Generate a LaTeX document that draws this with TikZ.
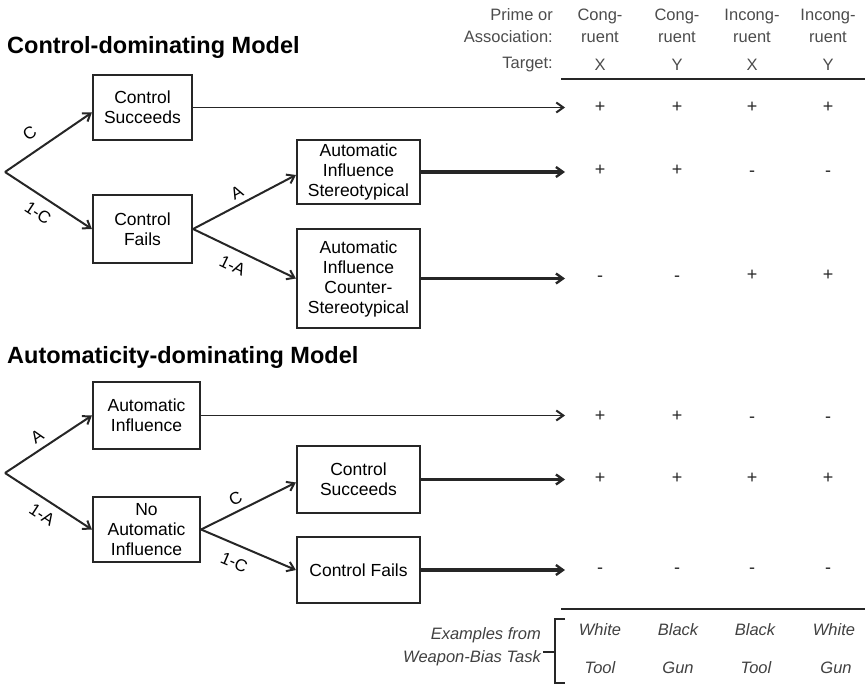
\documentclass[tikz,border=0pt]{standalone}
\usepackage{fontspec}
\setmainfont{Liberation Sans}
\usetikzlibrary{arrows.meta}
\begin{document}
\begin{tikzpicture}[x=1pt,y=-1pt,
  box/.style={draw=black!85,line width=2.2pt,minimum width=#1,align=center,inner sep=0pt,
    font=\fontsize{17.5}{20}\selectfont},
  conn/.style={draw=black!85,line width=2pt,-{Straight Barb[length=7pt,width=10pt,line width=2pt]}},
  thin/.style={conn,line width=1.8pt},
  thick/.style={conn,line width=3.4pt,-{Straight Barb[length=7pt,width=10pt,line width=2.4pt]}},
  lab/.style={sloped,font=\fontsize{17}{18}\selectfont,inner sep=1pt},
  title/.style={anchor=west,font=\fontsize{23.5}{26}\selectfont\bfseries,inner sep=0pt},
  hdr/.style={font=\fontsize{16.5}{22}\selectfont,text=black!70,inner sep=0pt,align=center},
  val/.style={font=\fontsize{18}{20}\selectfont,text=black!85,inner sep=0pt},
  ex/.style={font=\fontsize{16.5}{20}\selectfont\itshape,text=black!75,inner sep=0pt},
  rule/.style={draw=black!85,line width=2pt}
]
\useasboundingbox (0,0) rectangle (865,685);

% titles
\node[title] (t1) at (7,47) {Control-dominating Model};
\node[title] (t2) at (7,357) {Automaticity-dominating Model};

% coordinates
\coordinate (b1) at (5,172);
\coordinate (b2) at (5,473);
\coordinate (endx) at (565,0);

% upper model boxes
\node[box=99pt,minimum height=65pt] (CS1) at (142.5,107.5) {Control\\Succeeds};
\node[box=99pt,minimum height=68pt] (CF1) at (142.5,229) {Control\\Fails};
\node[box=123pt,minimum height=64pt] (AS1) at (358.5,172) {Automatic\\Influence\\Stereotypical};
\node[box=123pt,minimum height=99pt] (AC1) at (358.5,278.5) {Automatic\\Influence\\Counter-\\Stereotypical};

% lower model boxes
\node[box=107pt,minimum height=67pt] (AI2) at (146.5,415.5) {Automatic\\Influence};
\node[box=107pt,minimum height=65pt] (NA2) at (146.5,529.5) {No\\Automatic\\Influence};
\node[box=123pt,minimum height=67pt] (CS2) at (358.5,479.5) {Control\\Succeeds};
\node[box=123pt,minimum height=66pt] (CF2) at (358.5,570) {Control Fails};

% upper model connectors
\draw[conn] (b1) -- node[lab,above=10pt,pos=0.4] {C} ([yshift=-5pt]CS1.west);
\draw[conn] (b1) -- node[lab,below=8pt,pos=0.48] {1-C} (CF1.west);
\draw[conn] (CF1.east) -- node[lab,above=4pt,pos=0.48] {A} ([yshift=-3pt]AS1.west);
\draw[conn] (CF1.east) -- node[lab,below=8pt,pos=0.45] {1-A} (AC1.west);
\draw[thin] (CS1.east) -- (CS1.east -| endx);
\draw[thick] (AS1.east) -- (AS1.east -| endx);
\draw[thick] (AC1.east) -- (AC1.east -| endx);

% lower model connectors
\draw[conn] (b2) -- node[lab,above=5pt,pos=0.45] {A} (AI2.west);
\draw[conn] (b2) -- node[lab,below=7pt,pos=0.52] {1-A} (NA2.west);
\draw[conn] (NA2.east) -- node[lab,above=4pt,pos=0.42] {C} ([yshift=-3pt]CS2.west);
\draw[conn] (NA2.east) -- node[lab,below=9pt,pos=0.42] {1-C} (CF2.west);
\draw[thin] (AI2.east) -- (AI2.east -| endx);
\draw[thick] (CS2.east) -- (CS2.east -| endx);
\draw[thick] (CF2.east) -- (CF2.east -| endx);

% table header
\node[hdr,anchor=east,align=right] (h0) at (553,26) {Prime or\\Association:};
\node[hdr,anchor=east] (h0t) at (553,65) {Target:};
\node[hdr] (h1) at (600,26) {Cong-\\ruent};
\node[hdr] (h2) at (677,26) {Cong-\\ruent};
\node[hdr] (h3) at (752,26) {Incong-\\ruent};
\node[hdr] (h4) at (828,26) {Incong-\\ruent};
\node[hdr] (x1) at (600,65) {X};
\node[hdr] (y1) at (677,65) {Y};
\node[hdr] (x2) at (752,65) {X};
\node[hdr] (y2) at (828,65) {Y};
\coordinate (r1a) at (561,79);
\coordinate (r1b) at (865,79);
\draw[rule] (r1a) -- (r1b);

% values, upper model
\foreach \x/\s/\d [count=\i] in {600/+/0,677/+/0,752/+/0,828/+/0}{\node[val] (va\i) at (\x,107+\d) {\s};}
\foreach \x/\s/\d [count=\i] in {600/+/0,677/+/0,752/-/4,828/-/4}{\node[val] (vb\i) at (\x,170+\d) {\s};}
\foreach \x/\s/\d [count=\i] in {600/-/4,677/-/4,752/+/0,828/+/0}{\node[val] (vc\i) at (\x,275+\d) {\s};}
% values, lower model
\foreach \x/\s/\d [count=\i] in {600/+/0,677/+/0,752/-/4,828/-/4}{\node[val] (vd\i) at (\x,416+\d) {\s};}
\foreach \x/\s/\d [count=\i] in {600/+/0,677/+/0,752/+/0,828/+/0}{\node[val] (ve\i) at (\x,478+\d) {\s};}
\foreach \x/\s/\d [count=\i] in {600/-/4,677/-/4,752/-/4,828/-/4}{\node[val] (vf\i) at (\x,567+\d) {\s};}

% bottom rule and examples
\coordinate (r2a) at (561,609);
\coordinate (r2b) at (865,609);
\draw[rule] (r2a) -- (r2b);
\coordinate (k1) at (565,619);
\coordinate (k2) at (555,619);
\coordinate (k3) at (555,683);
\coordinate (k4) at (565,683);
\coordinate (k5) at (555,652);
\coordinate (k6) at (543,652);
\draw[draw=black!85,line width=1.6pt] (k1) -- (k2) -- (k3) -- (k4);
\draw[draw=black!85,line width=1.6pt] (k5) -- (k6);
\node[ex,anchor=east,align=right,font=\fontsize{16.5}{23}\selectfont\itshape] (exl) at (541,647) {Examples from\\Weapon-Bias Task};
\node[ex] (w1) at (600,630) {White};
\node[ex] (w2) at (678,630) {Black};
\node[ex] (w3) at (755,630) {Black};
\node[ex] (w4) at (834,630) {White};
\node[ex] (g1) at (600,668) {Tool};
\node[ex] (g2) at (678,668) {Gun};
\node[ex] (g3) at (756,668) {Tool};
\node[ex] (g4) at (836,668) {Gun};
\end{tikzpicture}
\end{document}
